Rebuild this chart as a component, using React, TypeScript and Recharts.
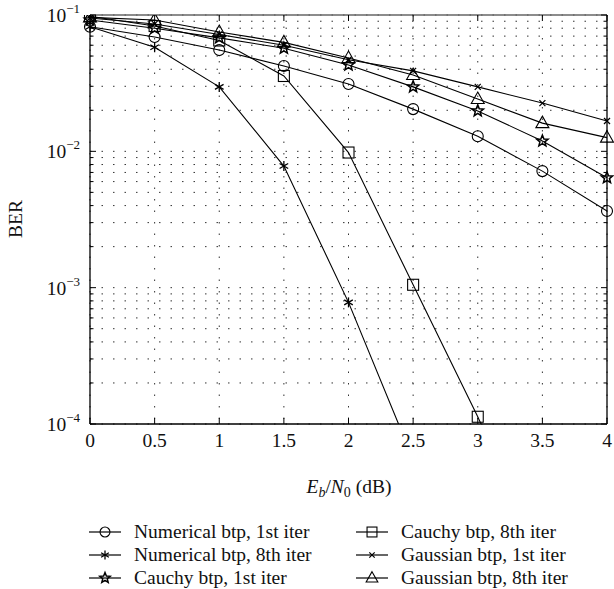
import React from "react";
import { CartesianGrid, Line, LineChart, XAxis, YAxis } from "recharts";

const snr = [0, 0.5, 1, 1.5, 2, 2.5, 3, 3.5, 4];
const numerical1st = [0.082, 0.069, 0.0553, 0.0423, 0.0312, 0.0204, 0.0129, 0.00716, 0.00365];
const numerical8th = [0.082, 0.058, 0.0297, 0.0078, 0.00078, 0.000055, null, null, null];
const cauchy1st = [0.092, 0.08, 0.068, 0.057, 0.043, 0.0297, 0.0198, 0.0119, 0.0064];
const cauchy8th = [0.098, 0.083, 0.065, 0.0357, 0.0098, 0.00105, 0.000113, 0.00001, null];
const gaussian1st = [0.095, 0.086, 0.072, 0.06, 0.047, 0.0389, 0.0297, 0.0226, 0.0167];
const gaussian8th = [0.096, 0.092, 0.075, 0.063, 0.0483, 0.0363, 0.0242, 0.0161, 0.0126];

const xTicks = [0, 0.5, 1, 1.5, 2, 2.5, 3, 3.5, 4];
const decades = [-4, -3, -2, -1];
const mantissas = [1, 2, 3, 4, 5, 6, 7, 8, 9];
const yTicks = [
  ...decades.slice(0, 3).flatMap((d) => mantissas.map((m) => Number((m * 10 ** d).toPrecision(3)))),
  0.1,
];

const SERIF = '"Liberation Serif", "DejaVu Serif", serif';

type Marker = "circle" | "asterisk" | "pentagram" | "square" | "cross" | "triangle";

const seriesDefs: { key: string; name: string; marker: Marker; values: (number | null)[] }[] = [
  { key: "num1", name: "Numerical btp, 1st iter", marker: "circle", values: numerical1st },
  { key: "num8", name: "Numerical btp, 8th iter", marker: "asterisk", values: numerical8th },
  { key: "cau1", name: "Cauchy btp, 1st iter", marker: "pentagram", values: cauchy1st },
  { key: "cau8", name: "Cauchy btp, 8th iter", marker: "square", values: cauchy8th },
  { key: "gau1", name: "Gaussian btp, 1st iter", marker: "cross", values: gaussian1st },
  { key: "gau8", name: "Gaussian btp, 8th iter", marker: "triangle", values: gaussian8th },
];

const chartData = snr.map((x, i) => {
  const row: Record<string, number | null> = { x };
  seriesDefs.forEach((s) => {
    row[s.key] = s.values[i];
  });
  return row;
});

function starPath(r1: number, r2: number) {
  const pts: string[] = [];
  for (let i = 0; i < 10; i++) {
    const a = -Math.PI / 2 + (i * Math.PI) / 5;
    const r = i % 2 === 0 ? r1 : r2;
    pts.push(`${(r * Math.cos(a)).toFixed(2)},${(r * Math.sin(a)).toFixed(2)}`);
  }
  return "M" + pts.join("L") + "Z";
}

function MarkerShape({ type, cx, cy, s = 1 }: { type: Marker; cx: number; cy: number; s?: number }) {
  const common = { fill: "none", stroke: "#000", strokeWidth: 1.1 };
  switch (type) {
    case "circle":
      return <circle cx={cx} cy={cy} r={5.5 * s} {...common} />;
    case "square":
      return <rect x={cx - 5.5 * s} y={cy - 5.5 * s} width={11 * s} height={11 * s} {...common} />;
    case "triangle":
      return (
        <path
          d={`M${cx},${cy - 7 * s}L${cx + 6.5 * s},${cy + 4.5 * s}L${cx - 6.5 * s},${cy + 4.5 * s}Z`}
          {...common}
        />
      );
    case "pentagram":
      return (
        <path d={starPath(6 * s, 2.6 * s)} transform={`translate(${cx},${cy})`} {...common} strokeWidth={1.5} />
      );
    case "asterisk":
      return (
        <g stroke="#000" strokeWidth={1.3}>
          <line x1={cx} y1={cy - 5 * s} x2={cx} y2={cy + 5 * s} />
          <line x1={cx - 4.3 * s} y1={cy - 2.5 * s} x2={cx + 4.3 * s} y2={cy + 2.5 * s} />
          <line x1={cx - 4.3 * s} y1={cy + 2.5 * s} x2={cx + 4.3 * s} y2={cy - 2.5 * s} />
        </g>
      );
    case "cross":
      return (
        <g stroke="#000" strokeWidth={1.2}>
          <line x1={cx - 3 * s} y1={cy - 3 * s} x2={cx + 3 * s} y2={cy + 3 * s} />
          <line x1={cx - 3 * s} y1={cy + 3 * s} x2={cx + 3 * s} y2={cy - 3 * s} />
        </g>
      );
  }
}

function makeDot(type: Marker) {
  return (props: any) => {
    const { cx, cy, value, index } = props;
    if (value == null || value < 0.0001 || cx == null || cy == null) return <g key={index} />;
    return (
      <g key={index}>
        <MarkerShape type={type} cx={cx} cy={cy} />
      </g>
    );
  };
}

function isMajor(v: number) {
  return decades.some((d) => Math.abs(v - 10 ** d) < 1e-9);
}

function LeftTick(props: any) {
  const { x, y, payload } = props;
  const v = payload.value as number;
  const axisX = x + 10;
  const major = isMajor(v);
  return (
    <g>
      <line x1={axisX} x2={axisX + (major ? 6 : 3.5)} y1={y} y2={y} stroke="#000" />
      {major ? (
        <text x={x} y={y + 7} textAnchor="end" fontFamily={SERIF} fontSize={19.5} fill="#111">
          10
          <tspan dy={-9} fontSize={13}>
            {"\u2212" + Math.round(-Math.log10(v))}
          </tspan>
        </text>
      ) : null}
    </g>
  );
}

function RightTick(props: any) {
  const { x, y, payload } = props;
  const major = isMajor(payload.value);
  return <line x1={x} x2={x - (major ? 6 : 3.5)} y1={y} y2={y} stroke="#000" />;
}

function BottomTick(props: any) {
  const { x, y, payload } = props;
  return (
    <g>
      <line x1={x} x2={x} y1={y} y2={y - 6} stroke="#000" />
      <text x={x} y={y + 23} textAnchor="middle" fontFamily={SERIF} fontSize={19.5} fill="#111">
        {String(payload.value)}
      </text>
    </g>
  );
}

function TopTick(props: any) {
  const { x, y } = props;
  return <line x1={x} x2={x} y1={y} y2={y + 6} stroke="#000" />;
}

const legendCols = [
  { left: 89, items: seriesDefs.slice(0, 3) },
  { left: 356, items: seriesDefs.slice(3) },
];
const legendBaselines = [538, 561, 584];

export default function App() {
  return (
    <div style={{ position: "absolute", left: 0, top: 0, width: 614, height: 589, background: "#fff" }}>
      <LineChart
        width={614}
        height={589}
        data={chartData}
        margin={{ top: 14, right: 6, bottom: 135, left: 0 }}
      >
        <CartesianGrid
          xAxisId="bottom"
          yAxisId="left"
          stroke="#333"
          strokeDasharray="1.5 10"
          horizontalValues={yTicks}
          verticalValues={xTicks}
        />
        <XAxis
          xAxisId="bottom"
          dataKey="x"
          type="number"
          domain={[0, 4]}
          ticks={xTicks}
          height={30}
          tickSize={0}
          tickMargin={0}
          tick={<BottomTick />}
          axisLine={{ stroke: "#000", strokeWidth: 1.3 }}
          interval={0}
        />
        <XAxis
          xAxisId="top"
          orientation="top"
          dataKey="x"
          type="number"
          domain={[0, 4]}
          ticks={xTicks}
          height={1}
          tickSize={0}
          tickMargin={0}
          tick={<TopTick />}
          axisLine={{ stroke: "#666", strokeWidth: 1.6 }}
          interval={0}
        />
        <YAxis
          yAxisId="left"
          scale="log"
          type="number"
          domain={[0.0001, 0.1]}
          allowDataOverflow
          ticks={yTicks}
          interval={0}
          width={90}
          tickSize={0}
          tickMargin={10}
          tick={<LeftTick />}
          axisLine={{ stroke: "#000", strokeWidth: 1.3 }}
        />
        <YAxis
          yAxisId="right"
          orientation="right"
          scale="log"
          type="number"
          domain={[0.0001, 0.1]}
          allowDataOverflow
          ticks={yTicks}
          interval={0}
          width={1}
          tickSize={0}
          tickMargin={0}
          tick={<RightTick />}
          axisLine={{ stroke: "#000", strokeWidth: 1.3 }}
        />
        {seriesDefs.map((s) => (
          <Line
            key={s.key}
            xAxisId="bottom"
            yAxisId="left"
            dataKey={s.key}
            name={s.name}
            type="linear"
            stroke="#000"
            strokeWidth={1.1}
            dot={makeDot(s.marker)}
            activeDot={false}
            isAnimationActive={false}
          />
        ))}
        <text
          x={18}
          y={219}
          transform="rotate(-90 18 219)"
          textAnchor="middle"
          dominantBaseline="middle"
          fontFamily={SERIF}
          fontSize={19.5}
          fill="#111"
        >
          BER
        </text>
        <text x={349} y={493} textAnchor="middle" fontFamily={SERIF} fontSize={19.5} fill="#111">
          <tspan fontStyle="italic">E</tspan>
          <tspan fontSize={14} dy={4} fontStyle="italic">b</tspan>
          <tspan dy={-4}>/</tspan>
          <tspan fontStyle="italic">N</tspan>
          <tspan fontSize={14} dy={4}>0</tspan>
          <tspan dy={-4}> (dB)</tspan>
        </text>
        {legendCols.map((col) =>
          col.items.map((s, i) => (
            <g key={s.key}>
              <line
                x1={col.left}
                x2={col.left + 32}
                y1={legendBaselines[i] - 6}
                y2={legendBaselines[i] - 6}
                stroke="#000"
                strokeWidth={1.2}
              />
              <MarkerShape type={s.marker} cx={col.left + 16} cy={legendBaselines[i] - 6} s={0.9} />
              <text x={col.left + 45} y={legendBaselines[i]} fontFamily={SERIF} fontSize={19.5} fill="#111">
                {s.name}
              </text>
            </g>
          ))
        )}
      </LineChart>
    </div>
  );
}
